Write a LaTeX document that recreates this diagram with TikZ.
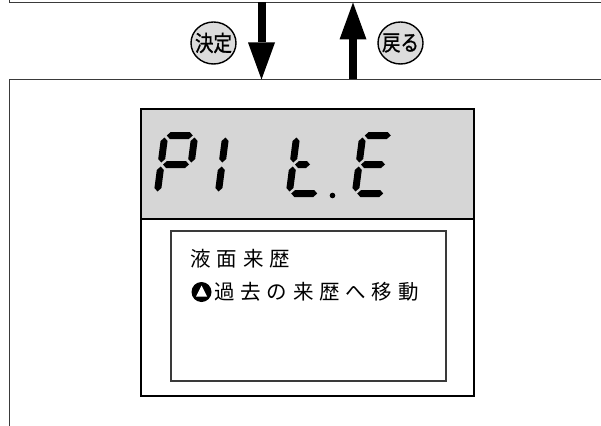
\documentclass[tikz,border=0pt]{standalone}
\usepackage{fontspec}
\newfontfamily\jp{Noto Sans CJK JP}
\newfontfamily\jpbtn[FakeBold=1.2]{Noto Sans CJK JP}
\usetikzlibrary{arrows.meta,shapes.geometric}
\definecolor{lcdgray}{HTML}{D6D6D6}
\definecolor{btngray}{HTML}{DCDCDC}
\definecolor{framegray}{HTML}{3A3A3A}
\newcommand{\hseg}[3]{\fill (#1+2,#3) -- (#1+5.5,#3-3.5) -- (#2-5.5,#3-3.5) -- (#2-2,#3) -- (#2-5.5,#3+3.5) -- (#1+5.5,#3+3.5) -- cycle;}
\newcommand{\vseg}[3]{\fill (#1,#2+2) -- (#1+3.5,#2+5.5) -- (#1+3.5,#3-5.5) -- (#1,#3-2) -- (#1-3.5,#3-5.5) -- (#1-3.5,#2+5.5) -- cycle;}
\newcommand{\jsp}{\hspace{5.8pt}}
\newcommand{\btntext}[1]{\makebox[0pt][c]{\scalebox{0.84}[1]{#1}}}
\tikzset{
  frameline/.style={draw=framegray, line width=1.5pt},
  btn/.style={ellipse, draw=black, line width=1.4pt, fill=btngray, minimum width=45pt, minimum height=42pt, inner sep=0pt,
              font=\jpbtn\fontsize{22}{24}\selectfont},
  bigarrow/.style={line width=8pt, -{Triangle[length=37pt,width=27pt,line width=0pt]}},
  jptext/.style={anchor=west, inner sep=0pt, font=\jp\fontsize{20.5}{24}\selectfont},
  digit/.style={xslant=0.13}
}
\begin{document}
\begin{tikzpicture}[x=1pt,y=-1pt]
\useasboundingbox (0,0) rectangle (601,425);
% upper and lower frames
\draw[frameline] (9.5,-5) -- (9.5,2.5) -- (610,2.5);
\draw[frameline] (9.5,430) -- (9.5,79.5) -- (610,79.5);
% arrows between the frames
\coordinate (dTop) at (261.5,2.5);
\coordinate (dBot) at (261.5,79.5);
\coordinate (uBot) at (353,79.5);
\coordinate (uTop) at (353,2.5);
\draw[bigarrow] (dTop) -- (dBot);
\draw[bigarrow] (uBot) -- (uTop);
% buttons
\node[btn] (kettei) at (213.5,43) {\btntext{決定}};
\node[btn] (modoru) at (400.5,43) {\btntext{戻る}};
% display unit
\fill[lcdgray] (141,109) rectangle (474,219);
\draw[line width=2.2pt] (141,219) -- (474,219);
\draw[line width=2.5pt] (141,109) rectangle (474,396);
\draw[draw=framegray, line width=1.2pt] (171,231) rectangle (446,381);
% seven-segment characters: P 1 t . E
\begin{scope}[shift={(161,164.5)}, digit]
  \hseg{0}{30}{-29}\vseg{30}{-29}{0}\vseg{0}{-29}{0}\vseg{0}{0}{29}\hseg{0}{30}{0}
\end{scope}
\begin{scope}[shift={(222,164.5)}, digit]
  \vseg{0}{-29}{0}\vseg{0}{0}{29}
\end{scope}
\begin{scope}[shift={(293,164.5)}, digit]
  \vseg{0}{-29}{0}\vseg{0}{0}{29}\hseg{0}{30}{29}\hseg{0}{19}{0}
\end{scope}
\fill (332.5,195.5) circle (2.8);
\begin{scope}[shift={(359,164.5)}, digit]
  \hseg{0}{30}{-29}\vseg{0}{-29}{0}\vseg{0}{0}{29}\hseg{0}{30}{29}\hseg{0}{28}{0}
\end{scope}
% message text
\node[jptext] (line1) at (190.5,259) {液\jsp 面\jsp 来\jsp 歴};
\node[circle, fill=black, minimum size=20pt, inner sep=0pt] (icon) at (201.5,292) {};
\fill[white] (201.5,285.5) -- (196,296.5) -- (207,296.5) -- cycle;
\node[jptext] (line2) at (214,292) {過\jsp 去\jsp の\jsp 来\jsp 歴\jsp へ\jsp 移\jsp 動};
\end{tikzpicture}
\end{document}
